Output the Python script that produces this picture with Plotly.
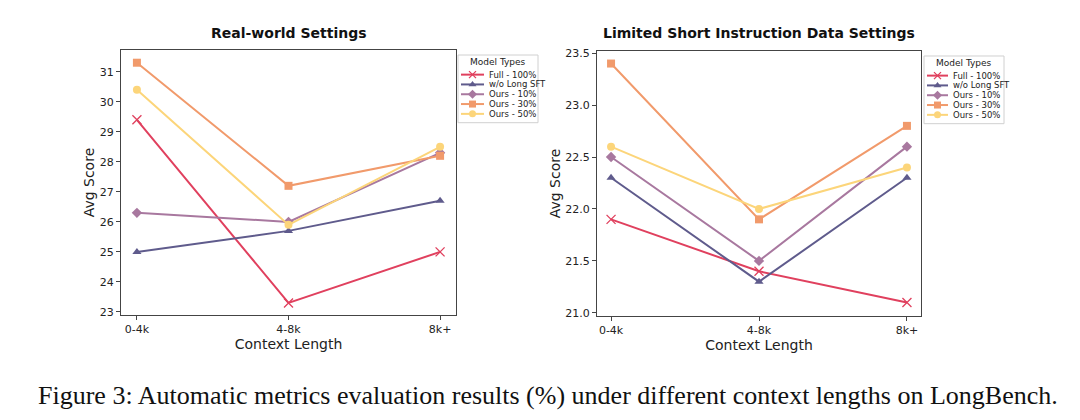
import plotly.graph_objects as go

categories = ["0-4k", "4-8k", "8k+"]
series_names = ["Full - 100%", "w/o Long SFT", "Ours - 10%", "Ours - 30%", "Ours - 50%"]

real_full = [29.4, 23.3, 25.0]
real_wo = [25.0, 25.7, 26.7]
real_o10 = [26.3, 26.0, 28.3]
real_o30 = [31.3, 27.2, 28.2]
real_o50 = [30.4, 25.9, 28.5]

lim_full = [21.9, 21.4, 21.1]
lim_wo = [22.3, 21.3, 22.3]
lim_o10 = [22.5, 21.5, 22.6]
lim_o30 = [23.4, 21.9, 22.8]
lim_o50 = [22.6, 22.0, 22.4]

colors = ["#e0405e", "#5f5b8c", "#a8789f", "#f19a6b", "#fcd57a"]
symbols = ["x-thin", "triangle-up", "diamond", "square", "circle"]

real = [real_full, real_wo, real_o10, real_o30, real_o50]
lim = [lim_full, lim_wo, lim_o10, lim_o30, lim_o50]

W, H = 1080, 420


def px(x):
    return x / W


def py(y):
    return 1 - y / H


def make_marker(i, size):
    sym = symbols[i]
    m = dict(symbol=sym, size=size, color=colors[i])
    if sym == "x-thin":
        m["line"] = dict(color=colors[i], width=1.3)
    else:
        m["line"] = dict(width=0)
    return m


fig = go.Figure()

for data, xa, ya in [(real, "x", "y"), (lim, "x2", "y2")]:
    for i, name in enumerate(series_names):
        fig.add_trace(go.Scatter(
            x=[0, 1, 2], y=data[i], mode="lines+markers", name=name,
            line=dict(color=colors[i], width=2), marker=make_marker(i, 8 if i else 9),
            xaxis=xa, yaxis=ya, showlegend=False,
        ))

# custom compact legends (pixel layout on an overlay axis spanning the whole figure)
shapes = []
annotations = []
legend_specs = [
    dict(box=(458, 52, 538, 121), title_y=59, rows=[72, 82, 92, 102, 112], lx0=461, lx1=484, tx=487),
    dict(box=(924, 53, 1004, 122), title_y=60, rows=[73, 83, 93, 103, 113], lx0=927, lx1=948, tx=951),
]
for spec in legend_specs:
    x0, y0, x1, y1 = spec["box"]
    shapes.append(dict(type="rect", xref="paper", yref="paper", x0=px(x0), x1=px(x1), y0=py(y0), y1=py(y1),
                       line=dict(color="#d0d0d0", width=1), fillcolor="white", layer="below"))
    annotations.append(dict(text="Model Types", x=px((x0 + x1) / 2), y=py(spec["title_y"]), xref="paper", yref="paper",
                            xanchor="center", yanchor="middle", showarrow=False,
                            font=dict(family="DejaVu Sans", size=9, color="#222")))
    for i, name in enumerate(series_names):
        ry = spec["rows"][i]
        shapes.append(dict(type="line", xref="paper", yref="paper", x0=px(spec["lx0"]), x1=px(spec["lx1"]),
                           y0=py(ry), y1=py(ry), line=dict(color=colors[i], width=2), layer="below"))
        annotations.append(dict(text=name, x=px(spec["tx"]), y=py(ry), xref="paper", yref="paper",
                                xanchor="left", yanchor="middle", showarrow=False,
                                font=dict(family="DejaVu Sans", size=8.5, color="#222")))
        fig.add_trace(go.Scatter(x=[(spec["lx0"] + spec["lx1"]) / 2], y=[ry], mode="markers",
                                 marker=make_marker(i, 7), xaxis="x3", yaxis="y3", showlegend=False,
                                 hoverinfo="skip"))

axis_common = dict(
    showline=True, linecolor="#444", linewidth=1, mirror=True,
    ticks="outside", ticklen=4, tickcolor="#444",
    showgrid=False, zeroline=False,
    tickfont=dict(family="DejaVu Sans", size=11, color="#222"),
)
title_font = dict(family="DejaVu Sans", size=14, color="#222")

annotations += [
    dict(text="<b>Real-world Settings</b>", x=px(289), y=py(30), xref="paper", yref="paper",
         xanchor="center", yanchor="middle", showarrow=False,
         font=dict(family="DejaVu Sans", size=14, color="#111")),
    dict(text="<b>Limited Short Instruction Data Settings</b>", x=px(759), y=py(30), xref="paper", yref="paper",
         xanchor="center", yanchor="middle", showarrow=False,
         font=dict(family="DejaVu Sans", size=14, color="#111")),
    dict(text="Figure 3: Automatic metrics evaluation results (%) under different context lengths on LongBench.",
         x=px(548), y=py(399), xref="paper", yref="paper", xanchor="center", yanchor="middle",
         showarrow=False, font=dict(family="Liberation Serif", size=26, color="#111")),
]

fig.update_layout(
    width=W, height=H,
    margin=dict(l=0, r=0, t=0, b=0),
    paper_bgcolor="white", plot_bgcolor="rgba(0,0,0,0)",
    showlegend=False,
    xaxis=dict(domain=[px(121), px(456)], anchor="y", range=[-0.105, 2.105],
               tickvals=[0, 1, 2], ticktext=categories,
               title=dict(text="Context Length", font=title_font, standoff=2),
               **axis_common),
    yaxis=dict(domain=[py(317), py(47)], anchor="x", range=[22.9, 31.72], dtick=1,
               title=dict(text="Avg Score", font=title_font, standoff=1),
               **axis_common),
    xaxis2=dict(domain=[px(597), px(921)], anchor="y2", range=[-0.095, 2.095],
                tickvals=[0, 1, 2], ticktext=categories,
                title=dict(text="Context Length", font=title_font, standoff=2),
                **axis_common),
    yaxis2=dict(domain=[py(318), py(48)], anchor="x2", range=[20.97, 23.52], dtick=0.5, tickformat=".1f",
                title=dict(text="Avg Score", font=title_font, standoff=1),
                **axis_common),
    xaxis3=dict(domain=[0, 1], anchor="y3", range=[0, W], visible=False, fixedrange=True),
    yaxis3=dict(domain=[0, 1], anchor="x3", range=[H, 0], visible=False, fixedrange=True),
    shapes=shapes,
    annotations=annotations,
)

fig.write_html("out.html", config={"displayModeBar": False},
               post_script="document.body.style.margin='0px';")
